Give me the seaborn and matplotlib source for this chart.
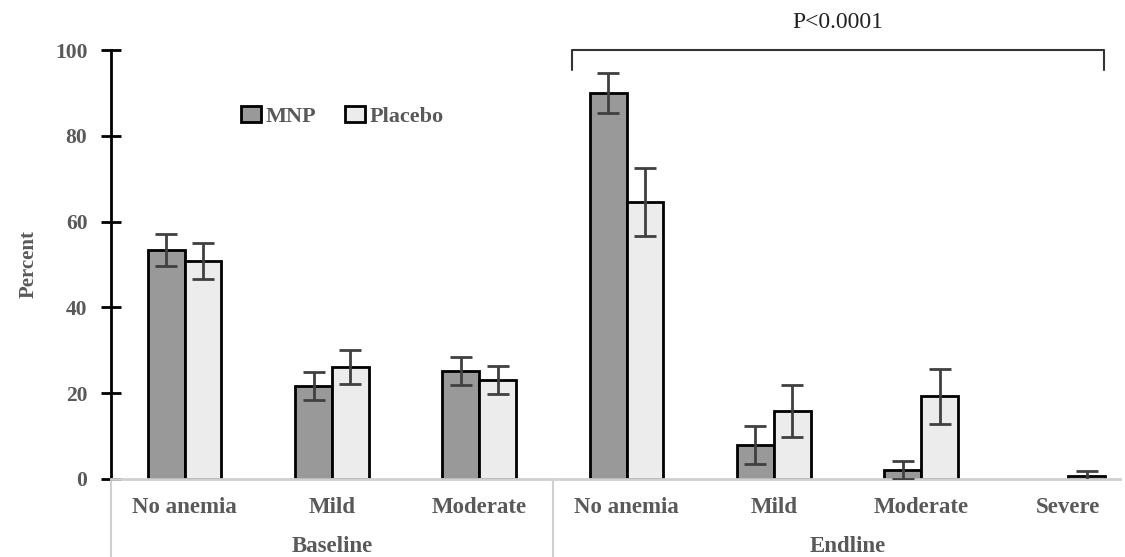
import matplotlib
matplotlib.use("Agg")
import matplotlib.pyplot as plt
import matplotlib.transforms as mtransforms
from matplotlib.patches import Patch
import seaborn as sns
import pandas as pd

# ---- data ----
categories = ["No anemia", "Mild", "Moderate", "No anemia", "Mild", "Moderate", "Severe"]
periods = ["Baseline", "Baseline", "Baseline", "Endline", "Endline", "Endline", "Endline"]
mnp_values = [53.4, 21.7, 25.2, 90.0, 7.9, 2.1, 0.0]
mnp_errors = [3.8, 3.3, 3.3, 4.7, 4.4, 2.2, 0.0]
placebo_values = [50.8, 26.1, 23.1, 64.6, 15.9, 19.3, 0.7]
placebo_errors = [4.1, 4.0, 3.2, 8.0, 6.0, 6.4, 1.2]
groups = ["MNP", "Placebo"]
p_text = "P<0.0001"

keys = [f"{p}|{c}" for p, c in zip(periods, categories)]
rows = []
for g, vals, errs in [("MNP", mnp_values, mnp_errors), ("Placebo", placebo_values, placebo_errors)]:
    for k, v, e in zip(keys, vals, errs):
        rows.append({"key": k, "group": g, "value": v, "err": e})
df = pd.DataFrame(rows)

sns.set_style("white")
plt.rcParams["font.family"] = ["Liberation Serif", "DejaVu Serif"]
TXT = "#595959"

fig = plt.figure(figsize=(11.25, 5.57), dpi=100)
ax = fig.add_axes([111 / 1125, 78 / 557, 1009 / 1125, 429 / 557])

palette = {"MNP": "#999999", "Placebo": "#ececec"}
sns.barplot(data=df, x="key", y="value", hue="group", order=keys, hue_order=groups,
            palette=palette, width=0.5, gap=0, edgecolor="black", linewidth=2,
            errorbar=None, legend=False, ax=ax, saturation=1)

# error bars at the drawn bar positions
for patch, (_, r) in zip(ax.patches, df.iterrows()):
    cx = patch.get_x() + patch.get_width() / 2
    h = patch.get_height()
    if h == 0:
        patch.set_linewidth(0)
    if r["err"] > 0:
        ax.errorbar(cx, h, yerr=r["err"], color="#404040", elinewidth=2,
                    capsize=8, capthick=2, fmt="none", zorder=5)

ax.set_ylim(0, 100)
ax.set_xlim(-0.5, 6.35)
ax.set_yticks([0, 20, 40, 60, 80, 100])
ax.set_ylabel("Percent", fontsize=15, fontweight="bold", color=TXT, labelpad=12)
ax.set_xlabel("")
ax.set_xticks(range(len(keys)))
ax.set_xticklabels(categories)
ax.tick_params(axis="x", bottom=False, length=0, pad=13, labelsize=16.5, labelcolor=TXT)
ax.tick_params(axis="y", left=True, direction="inout", length=14, width=2, color="black",
               labelsize=15.5, labelcolor=TXT, pad=10)
for lab in ax.get_xticklabels() + ax.get_yticklabels():
    lab.set_fontweight("bold")

for s in ["top", "right"]:
    ax.spines[s].set_visible(False)
ax.spines["left"].set_color("black")
ax.spines["left"].set_linewidth(2)
ax.spines["bottom"].set_color("#d0d0d0")
ax.spines["bottom"].set_linewidth(2)

# group separators and group labels
trans = mtransforms.blended_transform_factory(ax.transData, ax.transAxes)
for xs in [-0.5, 2.5]:
    ax.plot([xs, xs], [0, -0.25], transform=trans, color="#d0d0d0", lw=1.5, clip_on=False)
ax.text(1, -0.157, "Baseline", transform=trans, ha="center", va="center",
        fontsize=16.5, fontweight="bold", color=TXT)
ax.text(4.5, -0.157, "Endline", transform=trans, ha="center", va="center",
        fontsize=16.5, fontweight="bold", color=TXT)

# significance bracket
bx0, bx1 = 2.63, 6.24
ax.plot([bx0, bx0, bx1, bx1], [95.3, 100, 100, 95.3], color="#333333", lw=1.5,
        clip_on=False, solid_joinstyle="round")
ax.text((bx0 + bx1) / 2, 106.5, p_text, ha="center", va="center", fontsize=17,
        color="#222222")

# legend
handles = [Patch(facecolor=palette[g], edgecolor="black", linewidth=2, label=g) for g in groups]
leg = ax.legend(handles=handles, loc="center left", bbox_to_anchor=(0.118, 0.846),
                ncol=2, frameon=False, handlelength=0.9, handleheight=0.75,
                handletextpad=0.2, columnspacing=1.3, borderpad=0,
                prop={"size": 16, "weight": "bold"})
for t in leg.get_texts():
    t.set_color(TXT)

fig.savefig("out.png", dpi=100)
